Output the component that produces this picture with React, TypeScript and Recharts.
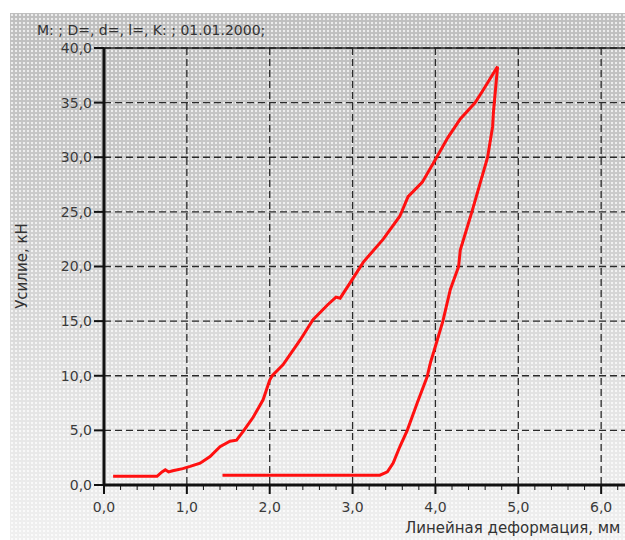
import React from 'react';
import { LineChart, Line, XAxis, YAxis, CartesianGrid, ReferenceLine } from 'recharts';

// Loading branch (deformation, mm / force, kN)
const loadX = [
  0.11, 0.64, 0.7, 0.74, 0.78, 0.83, 0.95, 1.04, 1.16, 1.28, 1.4, 1.52, 1.6, 1.68, 1.8, 1.92,
  2.0, 2.03, 2.16, 2.37, 2.52, 2.7, 2.8, 2.85, 2.97, 3.13, 3.37, 3.57, 3.67, 3.84, 4.0, 4.15,
  4.3, 4.48, 4.58, 4.75,
];
const loadY = [
  0.8, 0.8, 1.2, 1.4, 1.2, 1.3, 1.5, 1.7, 2.0, 2.6, 3.5, 4.0, 4.1, 4.9, 6.2, 7.8,
  9.6, 10.0, 11.0, 13.3, 15.1, 16.5, 17.2, 17.1, 18.5, 20.4, 22.5, 24.6, 26.4, 27.7, 29.8, 31.8,
  33.5, 35.0, 36.2, 38.3,
];

// Unloading branch
const unloadX = [
  4.75, 4.7, 4.69, 4.63, 4.44, 4.3, 4.28, 4.18, 4.09, 4.0, 3.94, 3.9, 3.78, 3.66, 3.57, 3.49,
  3.42, 3.33, 1.43,
];
const unloadY = [
  38.3, 34.1, 32.8, 30.0, 25.0, 21.5, 20.0, 17.9, 15.0, 12.7, 11.2, 9.9, 7.5, 5.0, 3.5, 2.0,
  1.2, 0.9, 0.9,
];

const xMajorTicks = [0, 1, 2, 3, 4, 5, 6];
const xAllTicks = [
  0, 0.2, 0.4, 0.6, 0.8, 1, 1.2, 1.4, 1.6, 1.8, 2, 2.2, 2.4, 2.6, 2.8, 3, 3.2, 3.4, 3.6, 3.8,
  4, 4.2, 4.4, 4.6, 4.8, 5, 5.2, 5.4, 5.6, 5.8, 6, 6.2,
];
const yTicks = [0, 5, 10, 15, 20, 25, 30, 35, 40];

const title = 'M: ; D=, d=, l=, K: ; 01.01.2000;';
const yTitle = 'Усилие, кН';
const xTitle = 'Линейная деформация, мм';

const loadData = loadX.map((x, i) => ({ x, y: loadY[i] }));
const unloadData = unloadX.map((x, i) => ({ x, y: unloadY[i] }));

const fmt = (v: number) => v.toFixed(1).replace('.', ',');
const FONT = "'DejaVu Sans', Verdana, sans-serif";

const XTick = (props: any) => {
  const { x, y, payload } = props;
  const v = payload.value as number;
  const major = Math.abs(v - Math.round(v)) < 1e-6;
  return (
    <g>
      <line x1={x} x2={x} y1={y} y2={y + (major ? 9 : 5)} stroke="#111" strokeWidth={major ? 2 : 1} />
      {major && (
        <text x={x} y={y + 27} textAnchor="middle" fontSize={14} fill="#3a3a3a" fontFamily={FONT}>
          {fmt(v)}
        </text>
      )}
    </g>
  );
};

export default function App() {
  return (
    <div
      style={{
        position: 'absolute',
        left: 0,
        top: 0,
        width: 625,
        height: 540,
        overflow: 'hidden',
        background: '#fff',
      }}
    >
      <div
        style={{
          position: 'absolute',
          left: 10,
          top: 13,
          width: 615,
          height: 527,
          background:
            'radial-gradient(circle, rgba(255,255,255,0.7) 1px, transparent 1.6px) 0 0 / 4px 4px, linear-gradient(#bebebe 0%, #c8c8c8 30%, #d6d6d6 55%, #e4e4e4 75%, #f0f0f0 100%)',
        }}
      />
      <div
        style={{
          position: 'absolute',
          left: 37,
          top: 22,
          fontFamily: FONT,
          fontSize: 14,
          color: '#333',
          whiteSpace: 'nowrap',
        }}
      >
        {title}
      </div>
      <div
        style={{
          position: 'absolute',
          left: 22,
          top: 266,
          transform: 'translate(-50%, -50%) rotate(-90deg)',
          fontFamily: FONT,
          fontSize: 15,
          color: '#333',
          whiteSpace: 'nowrap',
        }}
      >
        {yTitle}
      </div>
      <div
        style={{
          position: 'absolute',
          left: 405,
          top: 519,
          fontFamily: FONT,
          fontSize: 15,
          color: '#333',
          whiteSpace: 'nowrap',
        }}
      >
        {xTitle}
      </div>
      <div style={{ position: 'absolute', left: 0, top: 0 }}>
        <LineChart width={684} height={540} margin={{ top: 48, right: 0, left: 0, bottom: 0 }}>
          <XAxis
            xAxisId="grid"
            type="number"
            dataKey="x"
            domain={[0, 7]}
            ticks={xMajorTicks}
            allowDataOverflow
            hide
          />
          <CartesianGrid
            xAxisId="grid"
            stroke="#2a2a2a"
            strokeWidth={1.3}
            strokeDasharray="7 4"
            fill="none"
          />
          <XAxis
            type="number"
            dataKey="x"
            domain={[0, 7]}
            ticks={xAllTicks}
            interval={0}
            allowDataOverflow
            height={55}
            tickSize={0}
            tickMargin={0}
            tickLine={false}
            tick={<XTick />}
            axisLine={{ stroke: '#111', strokeWidth: 3 }}
          />
          <YAxis
            type="number"
            dataKey="y"
            domain={[0, 40]}
            ticks={yTicks}
            interval={0}
            width={104}
            tickSize={10}
            tickMargin={2}
            tickFormatter={fmt}
            tick={{ fontSize: 14, fill: '#3a3a3a', fontFamily: FONT }}
            tickLine={{ stroke: '#111', strokeWidth: 2 }}
            axisLine={{ stroke: '#111', strokeWidth: 3 }}
          />
          <ReferenceLine y={40} stroke="#222" strokeWidth={1.5} />
          <Line
            data={loadData}
            dataKey="y"
            type="linear"
            stroke="#ff1010"
            strokeWidth={3}
            dot={false}
            isAnimationActive={false}
          />
          <Line
            data={unloadData}
            dataKey="y"
            type="linear"
            stroke="#ff1010"
            strokeWidth={3}
            dot={false}
            isAnimationActive={false}
          />
        </LineChart>
      </div>
    </div>
  );
}
